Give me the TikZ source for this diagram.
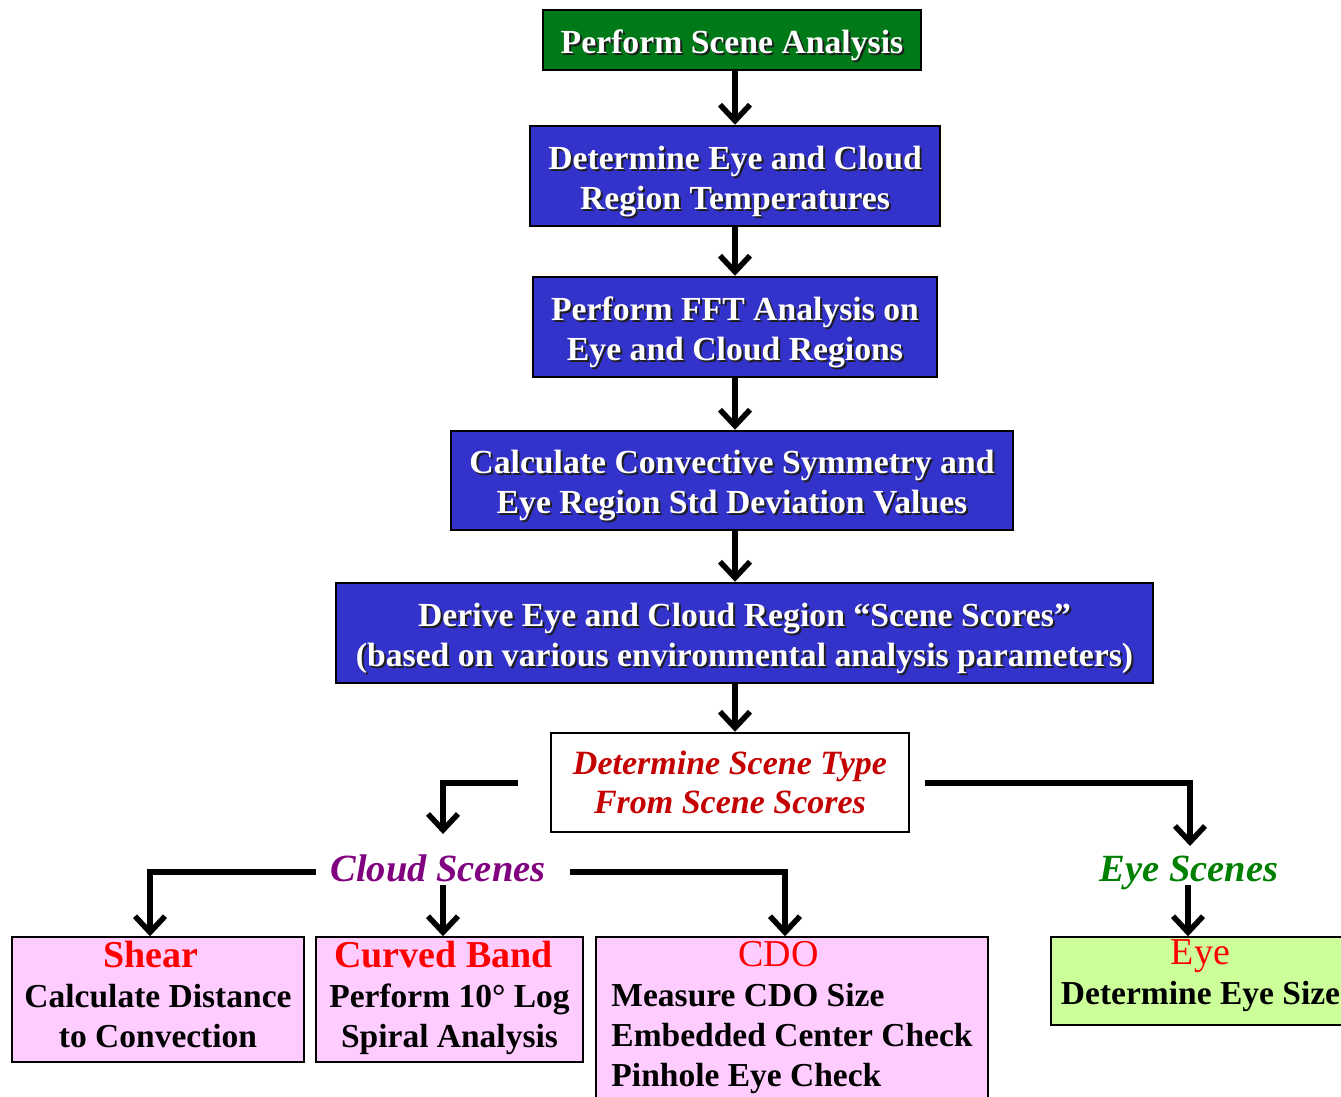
\documentclass[tikz,border=0pt]{standalone}
\usepackage{fontspec}
\setmainfont{Liberation Serif}
\usetikzlibrary{arrows.meta,calc}

\definecolor{boxblue}{RGB}{51,51,204}
\definecolor{boxgreen}{RGB}{0,122,24}
\definecolor{pinkfill}{RGB}{255,204,255}
\definecolor{limefill}{RGB}{204,255,153}
\definecolor{typered}{RGB}{196,0,0}
\definecolor{titlered}{RGB}{255,0,0}
\definecolor{cloudpurple}{RGB}{128,0,128}
\definecolor{eyegreen}{RGB}{0,128,0}
\definecolor{shadowgray}{RGB}{30,30,30}

% white lettering with a dark drop shadow
\newcommand\shd[1]{\leavevmode\rlap{\kern2pt\raisebox{-2pt}{\textcolor{shadowgray}{#1}}}#1}
% larger face for the leaf titles
\newcommand\leaftitlefont{\fontsize{38}{40}\selectfont}

\begin{document}
\begin{tikzpicture}[x=1pt,y=-1pt,
  basefont/.style={font=\fontsize{33.7}{40}\selectfont\bfseries},
  stepbox/.style={basefont, draw=black, line width=2.5pt, fill=boxblue,
    text=white, align=center, inner sep=0pt, text height=70pt, text depth=4pt},
  startbox/.style={stepbox, fill=boxgreen, text height=30pt, text depth=4pt},
  typebox/.style={draw=black, line width=2.5pt, fill=white, text=typered,
    align=center, inner sep=0pt, font=\fontsize{34}{39}\selectfont\bfseries\itshape},
  scenelabel/.style={font=\fontsize{38.5}{40}\selectfont\bfseries\itshape,
    inner sep=0pt, anchor=base},
  leafbox/.style={draw=black, line width=1.5pt, align=center, inner sep=0pt,
    font=\fontsize{33.5}{40}\selectfont\bfseries},
  cloudleaf/.style={leafbox, fill=pinkfill},
  eyeleaf/.style={leafbox, fill=limefill},
  arr/.style={line width=5.5pt, -{Straight Barb[length=16pt,width=30pt]}}
]
\useasboundingbox (0,0) rectangle (1341,1096);

% main chain
\node[startbox, minimum width=378pt, minimum height=60pt] (start) at (732,40)
  {\shd{Perform Scene Analysis}};
\node[stepbox, minimum width=410pt, minimum height=100pt] (temp) at (735,176)
  {\shd{Determine Eye and Cloud}\\\shd{Region Temperatures}};
\node[stepbox, minimum width=404pt, minimum height=100pt] (fft) at (735,327)
  {\shd{Perform FFT Analysis on}\\\shd{Eye and Cloud Regions}};
\node[stepbox, minimum width=562pt, minimum height=99pt] (sym) at (732,480.5)
  {\shd{Calculate Convective Symmetry and}\\\shd{Eye Region Std Deviation Values}};
\node[stepbox, minimum width=817pt, minimum height=100pt] (score) at (744.5,633)
  {\shd{Derive Eye and Cloud Region “Scene Scores”}\\\shd{(based on various environmental analysis parameters)}};
\node[typebox, minimum width=358pt, minimum height=99pt] (type) at (730,782.5)
  {Determine Scene Type\\From Scene Scores};

% scene classes
\node[scenelabel, text=cloudpurple] (cloud) at (438,881) {Cloud Scenes};
\node[scenelabel, text=eyegreen] (eyes) at (1189,881) {Eye Scenes};

% scene-type leaves
\node[cloudleaf, minimum width=292pt, minimum height=125pt,
      text height=100pt, text depth=5pt] (shear) at (158,999.5)
  {\hspace*{-14pt}\textcolor{titlered}{\leaftitlefont Shear}\\Calculate Distance\\to Convection};
\node[cloudleaf, minimum width=267pt, minimum height=125pt,
      text height=100pt, text depth=5pt] (band) at (449.5,999.5)
  {\hspace*{-12pt}\textcolor{titlered}{\leaftitlefont Curved Band}\\Perform 10° Log\\Spiral Analysis};
\node[cloudleaf, minimum width=392pt, minimum height=163pt] (cdo) at (792,1018.5)
  {\begin{tabular}{@{}l@{}}
   \multicolumn{1}{@{}l@{}}{\hspace*{127pt}\textcolor{titlered}{\leaftitlefont\mdseries CDO}}\\
   Measure CDO Size\\
   Embedded Center Check\\
   Pinhole Eye Check
   \end{tabular}};
\node[eyeleaf, minimum width=299pt, minimum height=88pt,
      text height=52pt, text depth=6pt] (eye) at (1200.5,981)
  {\textcolor{titlered}{\leaftitlefont\mdseries Eye}\\Determine Eye Size};

% free ends of the branch lines
\coordinate (tl) at (518,783);
\coordinate (tr) at (925,783);
\coordinate (cin) at (443,834);
\coordinate (ein) at (1190,846);
\coordinate (cl) at (316,872);
\coordinate (cr) at (570,872);
\coordinate (cm) at (443,885);
\coordinate (em) at (1188,885);

% connectors
\draw[arr] (start.south -| temp.north) -- (temp.north);
\draw[arr] (temp.south) -- (fft.north);
\draw[arr] (fft.south) -- (fft.south |- sym.north);
\draw[arr] (sym.south -| fft.south) -- (fft.south |- score.north);
\draw[arr] (score.south -| fft.south) -- (fft.south |- type.north);
\draw[arr] (tl) -| (cin);
\draw[arr] (tr) -| (ein);
\draw[arr] (cl) -| ([xshift=-8pt]shear.north);
\draw[arr] (cm) -- (cm |- band.north);
\draw[arr] (cr) -| ([xshift=-7pt]cdo.north);
\draw[arr] (em) -- (em |- eye.north);
\end{tikzpicture}
\end{document}
